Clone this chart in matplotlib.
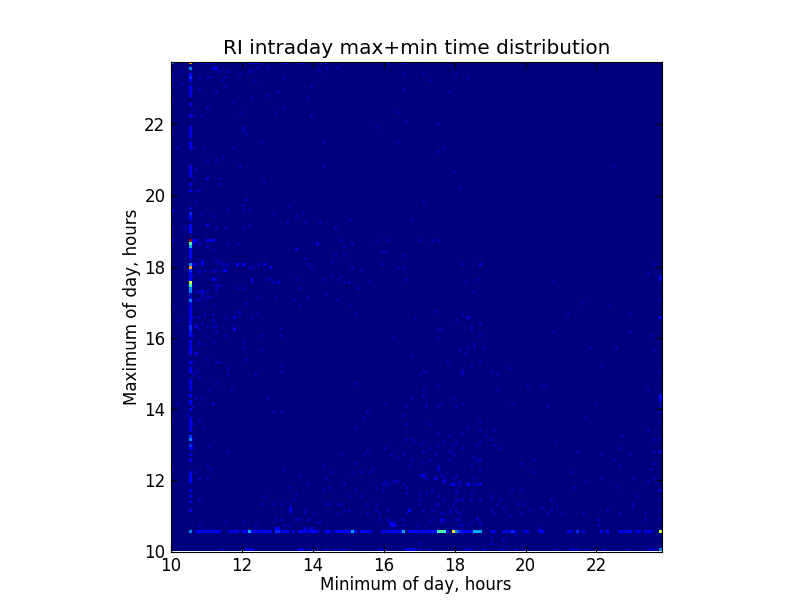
import numpy as np
import matplotlib
matplotlib.use("Agg")
import matplotlib.pyplot as plt

title = "RI intraday max+min time distribution"
xlabel = "Minimum of day, hours"
ylabel = "Maximum of day, hours"
ticks = [10, 12, 14, 16, 18, 20, 22]
n_cols = 166
n_rows = 165
bin_hours = 1 / 12
peak_count = 24

# (bin of minimum, count) for the maximum bin at 10:30
row6_counts = [(6,6),(8,2),(9,3),(10,2),(11,2),(12,2),(13,2),(14,2),(15,3),(16,3),(19,1),(20,2),(21,2),(22,2),(24,3),(25,2),(26,7),(27,3),(28,2),(29,3),(30,2),(31,3),(32,2),(33,3),(35,4),(36,4),(37,2),(38,2),(39,3),(41,2),(43,3),(44,3),(45,2),(46,2),(47,3),(48,3),(49,2),(52,3),(53,3),(55,2),(56,3),(57,3),(58,3),(59,3),(60,3),(61,7),(62,3),(64,3),(65,3),(66,2),(67,2),(71,2),(72,2),(73,2),(74,3),(75,3),(76,2),(77,3),(78,7),(80,3),(81,3),(82,3),(83,3),(84,2),(85,3),(86,2),(87,3),(88,3),(89,3),(90,10),(91,11),(92,10),(93,3),(95,16),(96,6),(97,4),(98,3),(99,3),(100,3),(101,2),(102,7),(103,7),(104,7),(108,2),(109,2),(112,2),(113,2),(114,2),(115,4),(116,2),(119,2),(120,2),(124,2),(125,3),(134,2),(135,2),(137,4),(139,2),(145,3),(147,3),(151,2),(152,2),(153,2),(154,2),(155,3),(157,2),(158,2),(160,2),(161,2),(162,2),(165,14)]
# (bin of maximum, count) for the minimum bin at 10:30
col6_counts = [(13,2),(16,3),(18,2),(20,2),(23,3),(24,3),(25,3),(26,2),(30,2),(32,2),(34,3),(35,4),(37,6),(38,4),(40,2),(41,2),(42,2),(43,2),(44,2),(47,2),(49,2),(50,3),(52,3),(54,2),(55,2),(56,2),(57,2),(60,3),(61,2),(63,3),(66,2),(67,3),(68,2),(69,2),(70,3),(72,3),(73,3),(74,4),(75,4),(76,2),(77,2),(78,3),(79,2),(80,3),(81,2),(82,2),(83,2),(84,6),(85,2),(86,1),(87,6),(88,6),(89,10),(90,14),(91,3),(92,2),(93,3),(94,4),(95,18),(96,6),(98,2),(99,3),(100,3),(101,3),(102,7),(103,11),(104,24),(107,3),(108,3),(109,3),(111,2),(112,3),(113,4),(115,2),(121,2),(123,2),(126,2),(127,2),(128,2),(129,2),(135,2),(136,2),(137,2),(139,2),(140,2),(141,2),(142,2),(146,2),(150,2),(153,2),(154,2),(155,2),(156,2),(158,2),(159,4),(160,3),(162,6),(164,18)]
# (bin of minimum, count) for the maximum bin at 10:00
row0_counts = [(17,1),(25,2),(26,2),(27,2),(43,2),(44,2),(46,1),(47,1),(52,1),(55,1),(57,1),(58,1),(70,1),(71,1),(72,1),(79,2),(80,2),(81,2),(82,2),(84,1),(87,1),(99,1),(100,1),(101,1),(105,1),(106,1),(111,1),(112,1),(116,1),(119,1),(130,1),(135,1),(136,1),(137,1),(140,1),(146,1),(154,1),(161,1),(162,1),(163,1),(165,6)]
# (bin of minimum, count) for the maximum bin at 23:40
top_counts = [(0,6),(4,1),(9,2),(12,2),(14,2),(17,1),(19,1),(21,1),(24,3),(26,2),(27,2),(28,2),(29,2),(33,1),(36,1),(38,2),(39,2),(44,2),(49,1),(52,2),(61,1),(73,2),(78,2),(84,1),(101,1)]
# (bin of maximum, count) for the minimum bin at 10:00
col0_counts = [(27,1),(43,1),(82,1),(104,2),(108,1),(114,2),(140,1),(151,1),(156,1),(158,1),(159,1),(160,1)]
# (bin of minimum, bin of maximum) cells holding a count of 3
cells_3 = [(36,7),(35,7),(74,8),(75,8),(80,13),(95,22),(100,22),(85,25),(165,78),(165,52),(165,51),(22,96),(24,96),(18,94),(14,91)]
# cells holding a count of 2
cells_2 = [(49,103),(42,101),(100,78),(104,96),(10,97),(10,96),(7,96),(11,79),(21,78),(8,75),(21,74),(8,66),(31,96),(33,95),(27,91),(36,90),(10,87),(14,49),(12,125),(0,114),(12,109),(14,162),(15,162),(40,14),(40,13),(47,7),(45,7),(74,9),(103,10),(91,10),(165,20),(165,92),(165,91),(165,33),(165,50),(90,27),(89,24),(92,23),(104,22),(7,103),(8,104),(7,104),(12,104),(13,104),(14,104)]
# cells holding a count of 1
cells_1 = [(55,108),(57,104),(61,103),(58,102),(69,104),(73,104),(84,104),(88,104),(90,104),(55,99),(58,99),(45,98),(54,97),(46,96),(47,95),(71,100),(72,100),(78,99),(71,96),(61,95),(64,94),(76,95),(78,95),(42,91),(51,91),(54,92),(56,91),(57,92),(58,90),(60,90),(67,90),(79,91),(43,88),(63,88),(52,86),(46,85),(56,84),(43,82),(60,82),(62,79),(82,78),(89,80),(98,79),(96,77),(104,76),(101,75),(101,74),(90,74),(91,74),(104,72),(75,71),(90,71),(102,69),(102,68),(100,68),(97,67),(105,68),(99,66),(81,65),(98,96),(99,90),(103,91),(102,87),
 (9,103),(12,102),(14,101),(19,103),(22,103),(8,96),(15,97),(16,97),(17,96),(18,96),(19,96),(29,96),(26,95),(27,95),(17,94),(14,94),(15,94),(11,94),(9,94),(9,93),(7,92),(15,91),(27,90),(32,91),(33,91),(34,90),(7,89),(15,89),(16,89),(15,88),(22,88),(24,88),(8,87),(9,87),(12,87),(15,87),(10,86),(11,86),(12,85),(10,85),(13,85),(29,85),(35,85),(41,84),(8,84),(9,84),(11,82),(14,82),(25,83),(22,80),(14,79),(23,79),(29,79),(7,78),(9,78),(14,77),(18,78),(27,78),(10,76),(12,75),(14,75),(15,75),(21,75),(9,74),(7,72),(11,72),(15,73),(18,72),(30,72),(37,72),(37,74),(14,70),(24,70),(9,70),(9,69),(11,69),(24,68),(30,67),(2,77),
 (7,63),(12,64),(15,63),(16,63),(25,64),(19,61),(37,62),(37,60),(8,60),(7,59),(19,59),(28,59),(9,58),(15,56),(13,54),(20,54),(8,51),(10,51),(32,51),(2,49),(9,49),(7,48),(34,46),(37,46),(5,45),(9,43),(7,42),(11,41),(7,37),(7,35),(7,34),(13,35),(19,33),(57,32),(12,28),(13,27),(38,27),(51,28),(54,26),(8,26),(43,25),(9,24),(12,24),(52,24),(61,26),
 (93,63),(101,62),(104,63),(84,59),(85,60),(86,60),(98,60),(98,59),(108,60),(110,59),(114,61),(62,56),(90,55),(85,54),(85,52),(110,54),(120,55),(125,55),(81,51),(72,49),(86,49),(86,48),(91,49),(95,51),(98,49),(90,48),(96,48),(79,48),(115,49),(66,46),(65,44),(78,45),(79,42),(87,42),(104,43),(100,41),(62,41),(104,40),(109,40),(90,39),(98,39),(94,38),(106,38),(79,37),(81,37),(82,36),(85,36),(92,36),(96,36),(104,36),(108,37),(84,35),(90,35),(95,35),(103,35),(109,35),(72,34),(87,34),(98,34),(111,34),(66,33),(85,33),(94,33),(65,32),(74,32),(78,32),(89,32),(95,32),(76,31),(102,31),(81,30),(87,30),(94,30),(103,30),(104,30),(122,30),(62,29),(85,29),(118,29),(80,28),(90,28),(101,28),(68,27),(104,27),(64,26),(67,26),(122,26),(84,25),(91,25),(86,24),(92,24),(95,24),(96,25),(102,24),(97,23),(72,23),(76,23),(95,22),(71,22),(73,22),(78,22),(100,22),(103,22),(94,22),
 (9,17),(18,9),(24,9),(9,8),(31,18),(30,15),(34,15),(37,15),(39,16),(41,17),(42,19),(40,21),(46,22),(53,21),(58,22),(51,20),(60,18),(62,20),(64,18),(69,21),(72,22),(75,23),(79,19),(79,21),(71,20),(40,12),(45,13),(45,12),(48,12),(42,10),(43,10),(35,10),(37,10),(46,10),(40,8),(38,8),(28,8),(49,9),(50,9),(56,12),(52,15),(53,15),(56,15),(57,15),(60,13),(58,13),(66,12),(69,13),(66,15),(69,15),(70,12),(73,13),(70,10),(73,10),(73,9),(75,9),(78,10),(79,12),(78,8),
 (92,23),(97,22),(102,22),(96,20),(96,19),(84,19),(86,19),(88,20),(90,18),(92,17),(96,17),(84,17),(96,16),(84,15),(89,15),(90,15),(95,15),(98,17),(101,17),(104,17),(101,19),(85,13),(88,13),(94,13),(96,13),(91,12),(92,12),(94,12),(97,12),(92,10),(88,10),(96,10),(97,10),(101,9),(104,9),(104,8),(97,8),(87,9),(91,9),(83,8),(95,7),(98,8),(100,8),(108,18),(108,17),(110,15),(111,17),(108,13),(112,14),(109,12),(114,11),(118,12),(117,15),(119,15),(121,13),(125,14),(128,17),(130,14),(128,13),(127,12),(132,12),(136,21),(140,23),(150,21),(115,20),(118,20),(139,12),(147,13),(144,10),(144,8),(157,18),(156,15),(156,14),(160,12),(151,12),(160,10),(164,23),(165,17),(165,13),(165,10),(108,4),(108,2),(112,3),(116,5),(124,7),(84,2),
 (163,96),(161,93),(129,90),(165,84),(139,83),(148,82),(134,79),(155,79),(129,73),(155,73),(162,72),(163,67),(141,68),(150,68),(145,62),(165,60),(126,55),(161,54),(165,48),(127,48),(143,49),(165,46),(140,44),(165,43),(161,40),(152,38),(163,37),(165,37),(130,36),(151,34),(137,33),(163,33),(145,32),(155,32),(149,30),(151,28),(163,29),(162,27),(135,26),(145,24),(156,24),(163,24),(140,23),(161,23),
 (7,148),(7,146),(10,146),(23,147),(35,147),(47,146),(24,142),(24,141),(25,140),(30,137),(51,137),(21,135),(2,135),(7,135),(11,135),(17,132),(12,131),(15,131),(23,129),(51,129),(8,128),(7,125),(16,125),(31,124),(16,123),(8,121),(9,121),(25,118),(8,117),(24,116),(40,116),(19,114),(24,114),(26,114),(10,113),(34,113),(44,113),(14,112),(42,112),(39,110),(45,110),(50,110),(60,111),(26,109),(4,108),(15,108),(18,108),(24,108),
 (3,161),(16,161),(19,161),(26,161),(27,161),(29,162),(32,162),(23,160),(9,159),(12,159),(13,159),(17,158),(18,159),(28,158),(38,159),(3,157),(18,156),(9,155),(15,154),(36,154),(32,153),(27,152),(21,151),(12,149),(38,149),
 (50,161),(52,162),(56,162),(47,156),(46,152),(47,146),(78,160),(85,160),(87,158),(96,160),(100,159),(78,155),(94,154),(76,147),(79,144),(69,142),(90,143),(51,137),(76,137),(92,135),(90,134),(51,129),(95,127),(149,129),(97,122),(85,117),(42,112),(44,113),(45,110),(50,110),(55,108),(60,111),(81,111)]

counts = np.zeros((n_rows, n_cols))
for c, r in cells_1:
    counts[r, c] = 1
for c, r in cells_2:
    counts[r, c] = 2
for c, r in cells_3:
    counts[r, c] = 3
for c, v in row0_counts:
    counts[0, c] = v
for r, v in col0_counts:
    counts[r, 0] = v
for c, v in top_counts:
    counts[n_rows - 1, c] = v
for c, v in row6_counts:
    counts[6, c] = v
for r, v in col6_counts:
    counts[r, 6] = v

W, H = 812, 612
fig = plt.figure(figsize=(W / 100, H / 100), dpi=100)
ax = fig.add_axes([171 / W, 1 - 551.5 / H, 490.5 / W, 489.5 / H])
x_end = 10 + n_cols * bin_hours
y_end = 10 + n_rows * bin_hours
ax.imshow(counts, origin="lower", cmap="jet", vmin=0, vmax=peak_count,
          interpolation="nearest", extent=[10, x_end, 10, y_end], aspect="auto")
ax.set_xlim(10, x_end)
ax.set_ylim(10, y_end)
ax.set_xticks(ticks)
ax.set_yticks(ticks)
ax.tick_params(direction="in", length=4, width=0.8, top=True, right=True,
               labelsize=12, pad=4, color="black")
ax.set_title(title, fontsize=14.4, pad=6)
ax.set_xlabel(xlabel, fontsize=12, labelpad=1)
ax.set_ylabel(ylabel, fontsize=12, labelpad=2)
fig.savefig("out.png", dpi=100)
